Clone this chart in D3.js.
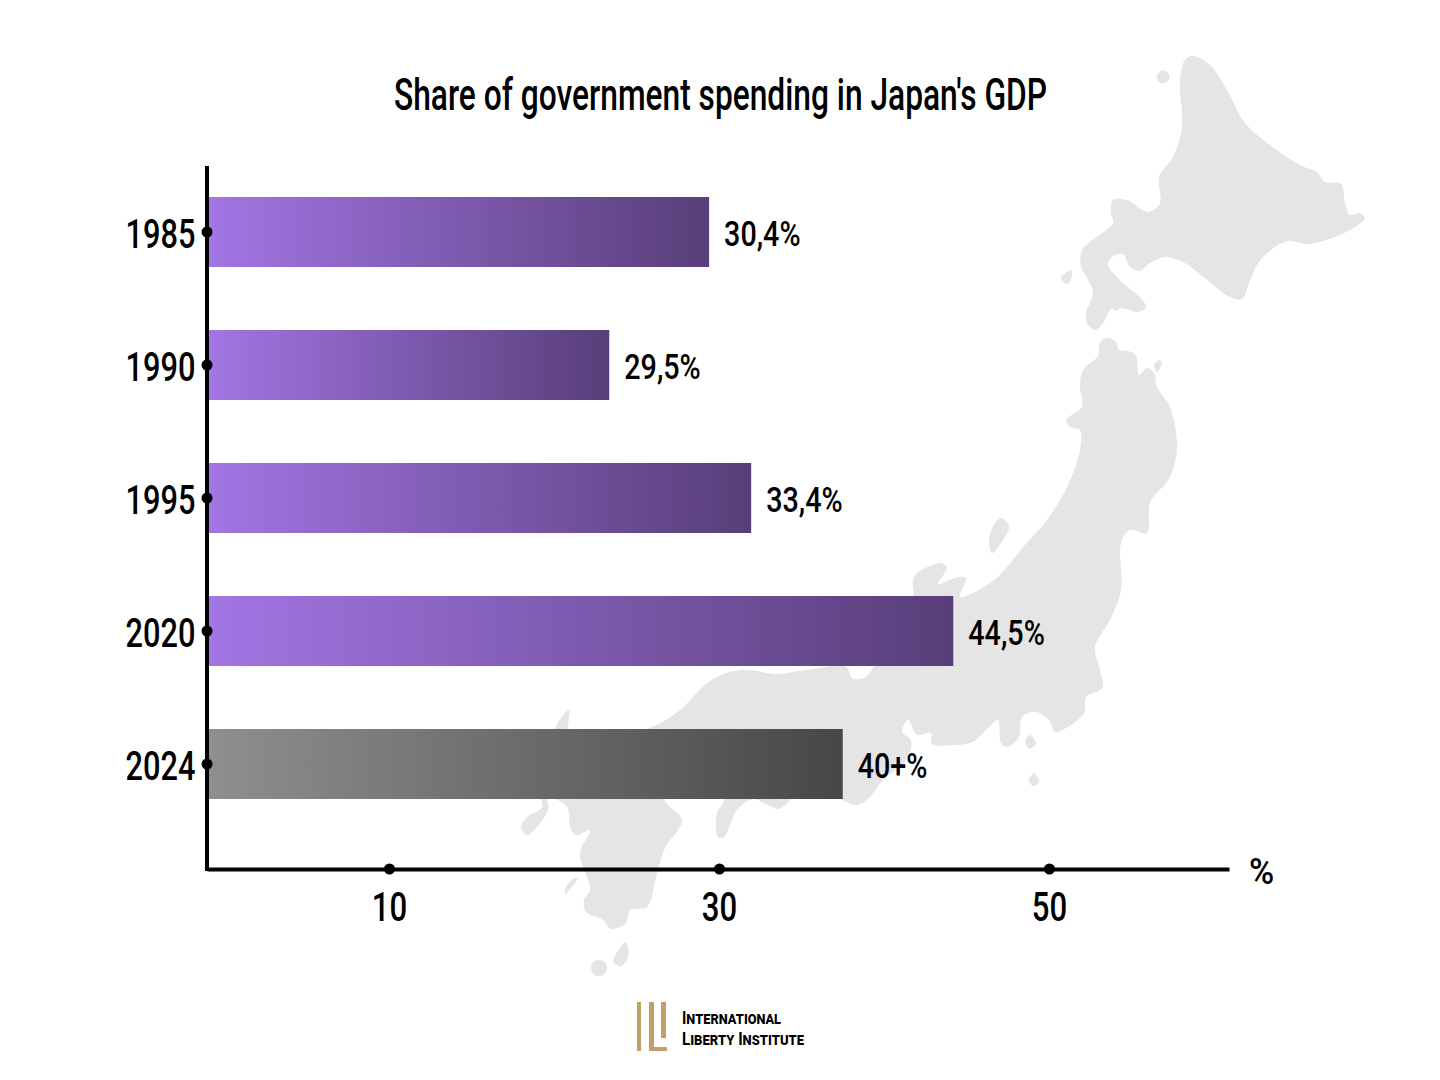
<!DOCTYPE html>
<html>
<head>
<meta charset="utf-8">
<title>Share of government spending in Japan's GDP</title>
<script src="https://cdnjs.cloudflare.com/ajax/libs/d3/7.8.5/d3.min.js"></script>
<style>
  html, body { margin: 0; padding: 0; background: #fff; }
  svg { display: block; }
  text { font-family: Roboto, "Liberation Sans", sans-serif; fill: #000; }
</style>
</head>
<body>
<svg id="chart" width="1440" height="1080"></svg>
<script>
// chart data, bar lengths as drawn in the picture (they differ from the printed labels)
var years = ['1985', '1990', '1995', '2020', '2024'];
var barValues = [29.4, 23.35, 31.95, 44.2, 37.5];
var barLabels = ['30,4%', '29,5%', '33,4%', '44,5%', '40+%'];
var xTicks = [10, 30, 50];

// background map outlines
var hokkaido = [[1193,56],[1210,65],[1227,90],[1245,123],[1277,150],[1302,166],[1317,172],[1325,182],[1341,184],[1345,203],[1350,215],[1359,213],[1365,218],[1350,230],[1320,242],[1305,244],[1288,241],[1263,257],[1250,280],[1242,299],[1230,297],[1207,280],[1183,262],[1165,257],[1150,263],[1140,271],[1130,267],[1123,254],[1112,257],[1108,265],[1122,282],[1140,297],[1146,307],[1138,312],[1122,308],[1115,311],[1112,308],[1103,323],[1095,330],[1087,323],[1086,313],[1093,293],[1087,278],[1081,267],[1082,250],[1095,238],[1113,223],[1111,213],[1113,200],[1127,200],[1148,212],[1160,203],[1159,177],[1173,157],[1182,127],[1180,80],[1185,60]];
var honshu = [[1108,338],[1116,342],[1119,350],[1128,351],[1136,356],[1139,375],[1147,368],[1154,373],[1157,387],[1170,407],[1177,447],[1170,477],[1150,503],[1147,533],[1130,530],[1121,543],[1121,590],[1110,620],[1095,647],[1100,670],[1103,687],[1100,690],[1086,697],[1084,713],[1066,728],[1055,732],[1049,720],[1036,712],[1022,717],[1019,737],[1007,747],[1001,743],[998,720],[986,730],[973,742],[955,745],[932,744],[931,733],[917,735],[908,720],[902,732],[911,740],[906,760],[883,780],[867,800],[854,805],[842,800],[800,790],[791,799],[779,809],[768,805],[753,799],[737,810],[724,837],[718,837],[717,813],[724,799],[700,780],[665,799],[682,820],[665,848],[657,873],[647,907],[630,910],[626,923],[611,929],[603,920],[586,912],[584,900],[590,890],[580,853],[590,830],[577,835],[571,830],[567,807],[555,799],[548,799],[548,810],[534,830],[527,835],[521,828],[527,817],[542,807],[538,790],[550,750],[555,728],[569,710],[570,740],[649,728],[680,710],[707,683],[730,672],[749,670],[776,674],[806,670],[846,667],[852,678],[864,678],[873,668],[890,640],[913,597],[913,580],[918,572],[942,563],[947,568],[938,584],[958,577],[966,578],[960,597],[990,583],[1007,567],[1023,547],[1047,520],[1067,487],[1080,450],[1080,430],[1070,427],[1066,420],[1082,407],[1080,387],[1083,370],[1098,356],[1100,342]];
var sado = [[1002,518],[1009,527],[1003,540],[992,553],[989,540],[995,523]];
var okushiri = [[1071,270],[1061,278],[1067,284],[1071,280]];
var northIslet = [[1160,360],[1162,363],[1157,372],[1154,365]];
var izuOne = [[1030,735],[1036,743],[1030,749],[1025,742]];
var izuTwo = [[1034,773],[1039,782],[1033,786],[1029,780]];
var tanegashima = [[626,942],[628,957],[621,966],[613,962],[617,952]];
var koshiki = [[578,878],[565,894],[567,885],[575,878]];
var mapShapes = [hokkaido, honshu, sado, okushiri, northIslet, izuOne, izuTwo, tanegashima, koshiki];
var mapDots = [[1163,77,6.5],[599,968,8]];

var svg = d3.select('#chart');
var axisX = 207, axisY = 869;

var x = d3.scaleLinear().domain([-1.03, 60.91]).range([axisX, 1229]);
var y = d3.scaleBand().domain(years).range([165.5, 830.5]).paddingInner(0.4737).paddingOuter(0.2368);

// squeeze Roboto to the narrow look of the original font
function squeeze(sel, k) {
	sel.each(function() {
		this.setAttribute('textLength', this.getComputedTextLength() * k);
		this.setAttribute('lengthAdjust', 'spacingAndGlyphs');
	});
}

// map
var outline = d3.line().curve(d3.curveCatmullRomClosed.alpha(0.5));
svg.append('g').attr('fill', '#e5e5e5')
	.selectAll('path').data(mapShapes).join('path').attr('d', outline);
svg.append('g').attr('fill', '#e5e5e5')
	.selectAll('circle').data(mapDots).join('circle')
	.attr('cx', function(d) { return d[0]; })
	.attr('cy', function(d) { return d[1]; })
	.attr('r', function(d) { return d[2]; });

// gradients
var defs = svg.append('defs');
function gradient(id, from, to) {
	var g = defs.append('linearGradient').attr('id', id);
	g.append('stop').attr('offset', '0%').attr('stop-color', from);
	g.append('stop').attr('offset', '100%').attr('stop-color', to);
}
gradient('purple', '#a276e4', '#583e79');
gradient('grey', '#8f8f8f', '#474747');

// bars
svg.append('g').selectAll('rect').data(years).join('rect')
	.attr('x', axisX)
	.attr('y', function(d) { return y(d); })
	.attr('width', function(d, i) { return x(barValues[i]) - axisX; })
	.attr('height', y.bandwidth())
	.attr('fill', function(d) { return d === '2024' ? 'url(#grey)' : 'url(#purple)'; });

// value labels
svg.append('g').selectAll('text').data(years).join('text')
	.attr('x', function(d, i) { return x(barValues[i]) + 15; })
	.attr('y', function(d) { return y(d) + y.bandwidth() / 2 + 14; })
	.attr('font-size', 35)
	.attr('font-weight', 500)
	.text(function(d, i) { return barLabels[i]; })
	.call(squeeze, 0.82);

// x axis
var xAxis = svg.append('g').attr('transform', 'translate(0,' + axisY + ')')
	.call(d3.axisBottom(x).tickValues(xTicks).tickSize(0).tickPadding(23).tickSizeOuter(0));
xAxis.select('.domain').attr('stroke', '#000').attr('stroke-width', 4);
xAxis.selectAll('text').attr('font-size', 41).attr('font-family', 'Roboto').attr('font-weight', 500).attr('fill', '#000')
	.attr('dy', '0.71em').call(squeeze, 0.76);
xAxis.selectAll('.tick').append('circle').attr('r', 5.5).attr('fill', '#000');

// y axis
svg.append('line').attr('x1', axisX).attr('x2', axisX).attr('y1', 166).attr('y2', axisY + 2)
	.attr('stroke', '#000').attr('stroke-width', 4);
var yTicks = svg.append('g').selectAll('g').data(years).join('g')
	.attr('transform', function(d) { return 'translate(' + axisX + ',' + (y(d) + y.bandwidth() / 2) + ')'; });
yTicks.append('circle').attr('r', 5.5).attr('fill', '#000');
yTicks.append('text')
	.attr('x', -11.5)
	.attr('y', 16)
	.attr('text-anchor', 'end')
	.attr('font-size', 41)
	.attr('font-weight', 500)
	.text(function(d) { return d; })
	.call(squeeze, 0.75);

// unit
svg.append('text').attr('x', 1249).attr('y', 884).attr('font-size', 36).attr('font-weight', 500)
	.text('%').call(squeeze, 0.95);

// title
svg.append('text').attr('x', 394).attr('y', 110).attr('font-size', 45).attr('font-weight', 500)
	.attr('textLength', 653).attr('lengthAdjust', 'spacingAndGlyphs')
	.text("Share of government spending in Japan's GDP");

// logo
var logo = svg.append('g').attr('fill', '#c09f6b');
logo.append('rect').attr('x', 637).attr('y', 1002).attr('width', 4).attr('height', 49);
logo.append('rect').attr('x', 649).attr('y', 1002).attr('width', 5).attr('height', 49);
logo.append('rect').attr('x', 649).attr('y', 1047).attr('width', 18).attr('height', 4);
logo.append('rect').attr('x', 661).attr('y', 1002).attr('width', 5).attr('height', 36);
svg.append('text').attr('x', 682).attr('y', 1024).attr('font-size', 18).attr('font-weight', 700)
	.attr('font-variant', 'small-caps').attr('textLength', 99).attr('lengthAdjust', 'spacingAndGlyphs')
	.text('International');
svg.append('text').attr('x', 682).attr('y', 1045).attr('font-size', 18).attr('font-weight', 700)
	.attr('font-variant', 'small-caps').attr('textLength', 122).attr('lengthAdjust', 'spacingAndGlyphs')
	.text('Liberty Institute');
</script>
</body>
</html>
